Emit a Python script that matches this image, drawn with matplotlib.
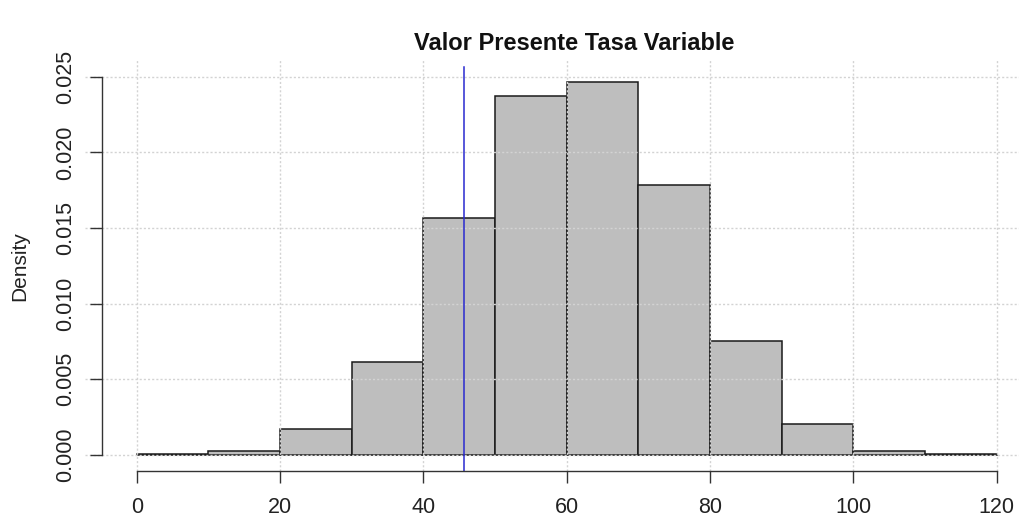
import numpy as np
import matplotlib
matplotlib.use("Agg")
import matplotlib.pyplot as plt

# histogram of present value (density scale), bins of width 10
bin_edges = [0, 10, 20, 30, 40, 50, 60, 70, 80, 90, 100, 110, 120]
densities = [0.00005, 0.00029, 0.00172, 0.00615, 0.01568, 0.02374,
             0.02467, 0.01784, 0.00753, 0.00207, 0.00029, 0.00005]
mark_value = 45.67
x_ticks = [0, 20, 40, 60, 80, 100, 120]
y_ticks = [0.000, 0.005, 0.010, 0.015, 0.020, 0.025]
y_tick_labels = ["0.000", "0.005", "0.010", "0.015", "0.020", "0.025"]

plt.rcParams['font.family'] = ['Liberation Sans', 'DejaVu Sans']

fig = plt.figure(figsize=(10.2, 5.2), dpi=100)
W, H = 1020.0, 520.0
# plot region in pixels: left 85, right 1020, top 60, bottom 470.5
ax = fig.add_axes([85 / W, 1 - 470.5 / H, (1020 - 85) / W, (470.5 - 60) / H])

px_per_x = 7.167
px_per_y = 15133.0
x0_px = 136.7
ax.set_xlim((85 - x0_px) / px_per_x, (1020 - x0_px) / px_per_x)
ax.set_ylim(-15.5 / px_per_y, 395 / px_per_y)

lefts = np.array(bin_edges[:-1])
widths = np.diff(bin_edges)
ax.bar(lefts, densities, width=widths, align='edge', color='#BEBEBE',
       edgecolor='#1a1a1a', linewidth=1.1, zorder=1)

# dotted grid drawn on top of the bars, below the axis lines
for xv in x_ticks:
    ax.axvline(xv, color='#D3D3D3', linestyle=(0, (1.5, 1.5)), linewidth=1.0, zorder=1.5)
for yv in y_ticks:
    ax.axhline(yv, color='#D3D3D3', linestyle=(0, (1.5, 1.5)), linewidth=1.0, zorder=1.5)

# blue marker line, stopping a little below the top of the region
lo, hi = ax.get_ylim()
top_frac = (hi - 6.7 / px_per_y - lo) / (hi - lo)
ax.axvline(mark_value, ymin=0, ymax=top_frac, color='#2a2ad0', linewidth=1.1, zorder=1.8)

# R-style axes: lines span first to last tick only
for s in ['top', 'right']:
    ax.spines[s].set_visible(False)
ax.spines['left'].set_position(('data', -4.8))
ax.spines['left'].set_bounds(0, 0.025)
ax.spines['bottom'].set_bounds(0, 120)
for s in ['left', 'bottom']:
    ax.spines[s].set_color('#333333')
    ax.spines[s].set_linewidth(1.0)
    ax.spines[s].set_zorder(2.5)

ax.set_xticks(x_ticks)
ax.set_xticklabels([str(v) for v in x_ticks])
ax.set_yticks(y_ticks)
ax.set_yticklabels(y_tick_labels, rotation=90, va='center')
ax.tick_params(axis='both', length=8.5, width=1.0, color='#333333',
               labelsize=15.5, labelcolor='#222222')
ax.tick_params(axis='x', pad=10.5)
ax.tick_params(axis='y', pad=10)

fig.text(20 / W, 1 - 266 / H, "Density", rotation=90, ha='center', va='center',
         fontsize=15, color='#222222')
fig.text(574 / W, 1 - 43 / H, "Valor Presente Tasa Variable", ha='center', va='center',
         fontsize=17, fontweight='bold', color='#111111')

fig.savefig("out.png", dpi=100)
